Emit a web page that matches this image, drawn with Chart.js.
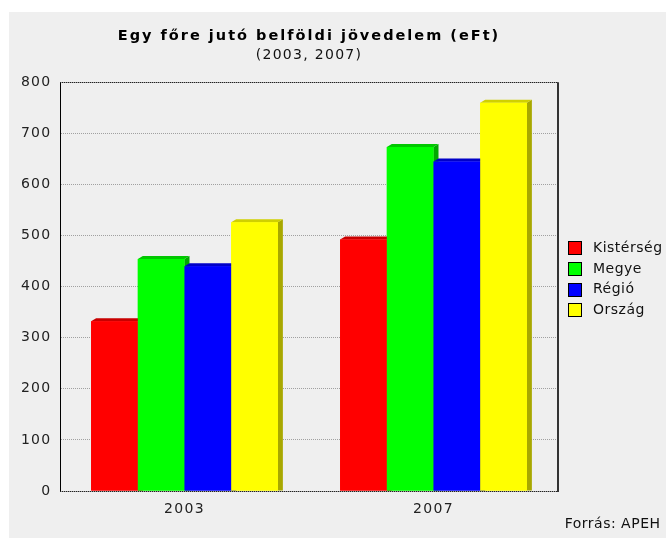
<!DOCTYPE html>
<html>
<head>
<meta charset="utf-8">
<script src="https://cdn.jsdelivr.net/npm/chart.js@4.4.1/dist/chart.umd.min.js"></script>
<style>
html,body{margin:0;padding:0;background:#ffffff;}
#wrap{width:666px;height:538px;}
</style>
</head>
<body>
<div id="wrap"><canvas id="c" width="666" height="538"></canvas></div>
<script>
// ---- data ----
const categories = ['2003', '2007'];
const seriesNames = ['Kistérség', 'Megye', 'Régió', 'Ország'];
const kisterseg = [332, 492];
const megye = [454, 673];
const regio = [440, 645];
const orszag = [526, 760];
const yTickValues = [0, 100, 200, 300, 400, 500, 600, 700, 800];
const titleText = 'Egy főre jutó belföldi jövedelem (eFt)';
const subtitleText = '(2003, 2007)';
const sourceText = 'Forrás: APEH';

// ---- styles ----
const frontColors = ['#ff0000', '#00ff00', '#0000ff', '#ffff00'];
const sideColors = ['#a80000', '#00a800', '#0000a8', '#a8a800'];
const topColors = ['#c80000', '#00c800', '#0000c8', '#d0d000'];
const FONT = '"DejaVu Sans", sans-serif';
Chart.defaults.font.family = FONT;

const seriesValues = [kisterseg, megye, regio, orszag];

const bar3d = {
  id: 'bar3d',
  beforeDraw(chart) {
    const ctx = chart.ctx;
    ctx.save();
    ctx.fillStyle = '#ffffff';
    ctx.fillRect(0, 0, chart.width, chart.height);
    ctx.fillStyle = '#efefef';
    ctx.fillRect(9, 12, chart.width - 9, chart.height - 12);
    ctx.restore();
    ctx.letterSpacing = '1.3px';
    const tb = chart.titleBlock;
    if (tb && !tb._spaced) {
      const orig = tb.draw.bind(tb);
      tb.draw = function () {
        const c = this.ctx;
        const old = c.letterSpacing;
        c.letterSpacing = '2px';
        orig.apply(null, arguments);
        c.letterSpacing = old;
      };
      tb._spaced = true;
    }
  },
  afterDatasetsDraw(chart) {
    const ctx = chart.ctx;
    const dx = 5, dy = 3;
    chart.data.datasets.forEach((ds, i) => {
      const meta = chart.getDatasetMeta(i);
      meta.data.forEach(el => {
        const p = el.getProps(['x', 'y', 'base', 'width'], true);
        const l = p.x - p.width / 2, r = p.x + p.width / 2;
        ctx.save();
        ctx.fillStyle = sideColors[i];
        ctx.beginPath();
        ctx.moveTo(r, p.y); ctx.lineTo(r + dx, p.y - dy);
        ctx.lineTo(r + dx, p.base); ctx.lineTo(r, p.base);
        ctx.closePath(); ctx.fill();
        ctx.fillStyle = topColors[i];
        ctx.beginPath();
        ctx.moveTo(l, p.y); ctx.lineTo(l + dx, p.y - dy);
        ctx.lineTo(r + dx, p.y - dy); ctx.lineTo(r, p.y);
        ctx.closePath(); ctx.fill();
        ctx.restore();
        el.draw(ctx);
      });
    });
    const a = chart.chartArea;
    ctx.save();
    ctx.strokeStyle = '#222222';
    ctx.lineWidth = 1;
    ctx.setLineDash([1, 1]);
    ctx.beginPath();
    ctx.moveTo(a.left, Math.round(a.top) + 0.5); ctx.lineTo(a.right, Math.round(a.top) + 0.5);
    ctx.moveTo(a.left, Math.round(a.bottom) + 0.5); ctx.lineTo(a.right, Math.round(a.bottom) + 0.5);
    ctx.stroke();
    ctx.setLineDash([]);
    ctx.strokeStyle = '#333333';
    ctx.lineWidth = 2;
    ctx.beginPath();
    ctx.moveTo(a.right, a.top); ctx.lineTo(a.right, a.bottom + 1);
    ctx.stroke();
    ctx.restore();
  },
  afterDraw(chart) {
    const ctx = chart.ctx;
    const a = chart.chartArea;
    ctx.save();
    ctx.letterSpacing = '0.5px';
    ctx.font = '14px ' + FONT;
    ctx.textBaseline = 'middle';
    ctx.textAlign = 'left';
    const mid = (a.top + a.bottom) / 2;
    chart.data.datasets.forEach((ds, i) => {
      const cy = mid - 38.2 + i * 20.6;
      ctx.fillStyle = ds.backgroundColor;
      ctx.fillRect(a.right + 10, Math.round(cy - 7), 14, 14);
      ctx.strokeStyle = '#000';
      ctx.lineWidth = 1;
      ctx.strokeRect(a.right + 10.5, Math.round(cy - 7) + 0.5, 13, 13);
      ctx.fillStyle = '#111';
      ctx.fillText(ds.label, a.right + 35, cy);
    });
    ctx.textAlign = 'right';
    ctx.fillText(sourceText, 660.5, 524.5);
    ctx.restore();
  }
};

new Chart(document.getElementById('c'), {
  type: 'bar',
  data: {
    labels: categories,
    datasets: seriesNames.map((name, i) => ({
      label: name,
      data: seriesValues[i],
      backgroundColor: frontColors[i],
      borderWidth: 0,
      categoryPercentage: 0.75,
      barPercentage: 1.0
    }))
  },
  options: {
    responsive: false,
    animation: false,
    devicePixelRatio: 1,
    layout: { padding: { left: 0, right: 108, top: 0, bottom: 0 } },
    plugins: {
      legend: { display: false },
      tooltip: { enabled: false },
      title: {
        display: true, text: titleText, fullSize: false, color: '#000',
        font: { size: 14.5, weight: 'bold', family: FONT },
        padding: { top: 28, bottom: 0 }
      },
      subtitle: {
        display: true, text: subtitleText, fullSize: false, color: '#111',
        font: { size: 14, family: FONT },
        padding: { top: 2, bottom: 18 }
      }
    },
    scales: {
      x: {
        grid: { display: false },
        border: { display: false },
        ticks: { color: '#222', font: { size: 14 }, padding: 2 },
        afterFit(s) { s.height = 47; }
      },
      y: {
        min: 0, max: 800,
        afterBuildTicks(s) { s.ticks = yTickValues.map(v => ({ value: v })); },
        grid: { color: '#a0a0a0', drawTicks: false, lineWidth: 1 },
        border: { display: true, color: '#000', width: 1, dash: [1, 1] },
        ticks: { color: '#222', font: { size: 14 }, padding: 8.5 },
        afterFit(s) { s.width = 60; }
      }
    }
  },
  plugins: [bar3d]
});
</script>
</body>
</html>
